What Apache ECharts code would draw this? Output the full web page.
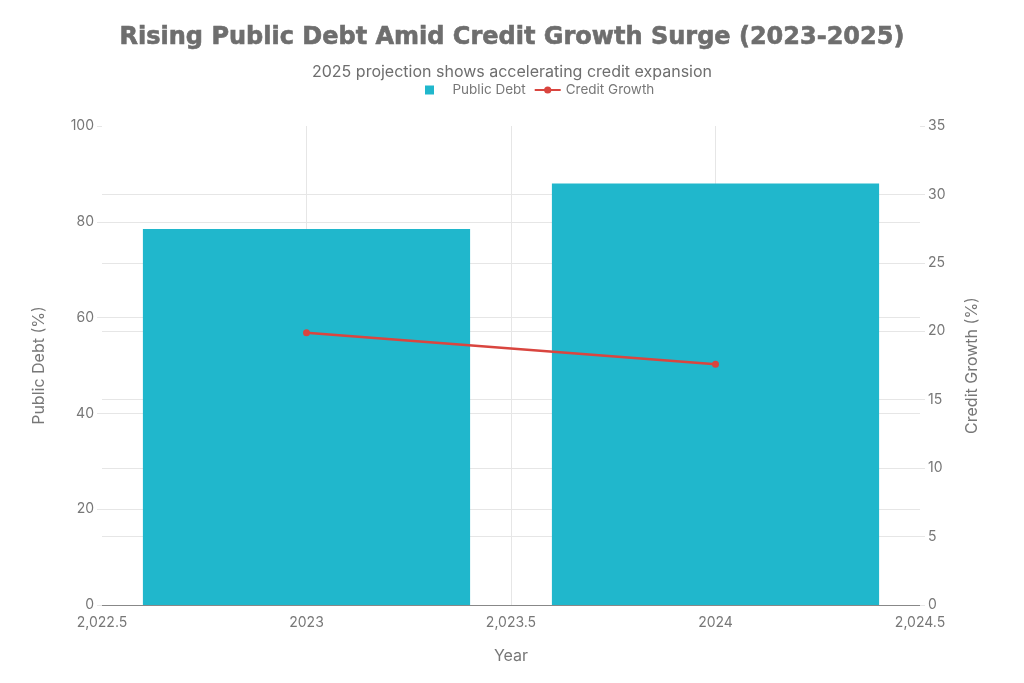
<!DOCTYPE html>
<html>
<head>
<meta charset="utf-8">
<script src="https://cdn.jsdelivr.net/npm/echarts@6/dist/echarts.min.js"></script>
<style>
  html, body { margin: 0; padding: 0; background: #fff; }
  #main { width: 1024px; height: 683px; }
</style>
</head>
<body>
<div id="main"></div>
<script>
// data
const years = [2023, 2024];
const publicDebt = [78.5, 88.0];
const creditGrowth = [19.9, 17.6];

const textColor = '#777';
const gridColor = '#e6e6e6';

const fmtYear = (v) => (v % 1 === 0 ? String(v) : v.toLocaleString('en-US'));

const myChart = echarts.init(document.getElementById('main'));

const option = {
  backgroundColor: '#fff',
  textStyle: { fontFamily: 'Inter' },
  title: {
    text: 'Rising Public Debt Amid Credit Growth Surge (2023-2025)',
    subtext: '2025 projection shows accelerating credit expansion',
    left: 'center',
    top: 21,
    itemGap: 14,
    textStyle: {
      fontFamily: 'DejaVu Sans', fontWeight: 'bold', fontSize: 24, color: '#6e6e6e',
      textBorderColor: '#6e6e6e', textBorderWidth: 0.6
    },
    subtextStyle: { fontFamily: 'Inter', fontSize: 16, color: '#6e6e6e' }
  },
  legend: {
    top: 78,
    left: 420,
    itemGap: 8,
    itemWidth: 26,
    itemHeight: 9,
    textStyle: { fontSize: 13.5, color: textColor },
    data: [
      { name: 'Public Debt', icon: 'path://M0,0h10v10h-10z', textStyle: { padding: [0, 0, 0, 5] } },
      { name: 'Credit Growth' }
    ]
  },
  grid: { left: 102, right: 104, top: 126, bottom: 78 },
  xAxis: {
    type: 'value',
    min: 2022.5,
    max: 2024.5,
    interval: 0.5,
    name: 'Year',
    nameLocation: 'middle',
    nameGap: 43,
    nameTextStyle: { fontSize: 16, color: textColor },
    axisLine: { show: true, lineStyle: { color: '#888', width: 1 } },
    axisTick: { show: false },
    axisLabel: { color: textColor, fontSize: 14, margin: 11, formatter: fmtYear },
    splitLine: { show: true, showMinLine: false, showMaxLine: false, lineStyle: { color: gridColor } }
  },
  yAxis: [
    {
      type: 'value',
      min: 0,
      max: 100,
      interval: 20,
      name: 'Public Debt (%)',
      nameLocation: 'middle',
      nameGap: 55,
      nameTextStyle: { fontSize: 16, color: textColor },
      axisLine: { show: false },
      axisTick: { show: true, length: 5, lineStyle: { color: gridColor } },
      axisLabel: { color: textColor, fontSize: 14, margin: 8 },
      splitLine: { show: true, showMaxLine: false, lineStyle: { color: gridColor } }
    },
    {
      type: 'value',
      min: 0,
      max: 35,
      interval: 5,
      name: 'Credit Growth (%)',
      nameLocation: 'middle',
      nameGap: 44,
      nameTextStyle: { fontSize: 16, color: textColor },
      axisLine: { show: false },
      axisTick: { show: true, length: 5, lineStyle: { color: gridColor } },
      axisLabel: { color: textColor, fontSize: 14, margin: 8 },
      splitLine: { show: true, showMaxLine: false, lineStyle: { color: gridColor } }
    }
  ],
  series: [
    {
      name: 'Public Debt',
      type: 'bar',
      yAxisIndex: 0,
      barWidth: '80%',
      itemStyle: { color: '#20b7cc' },
      data: years.map((y, i) => [y, publicDebt[i]])
    },
    {
      name: 'Credit Growth',
      type: 'line',
      yAxisIndex: 1,
      symbol: 'circle',
      symbolSize: 7,
      lineStyle: { color: '#d9453f', width: 2.5 },
      itemStyle: { color: '#d9453f' },
      data: years.map((y, i) => [y, creditGrowth[i]])
    }
  ]
};

myChart.setOption(option);
</script>
</body>
</html>
